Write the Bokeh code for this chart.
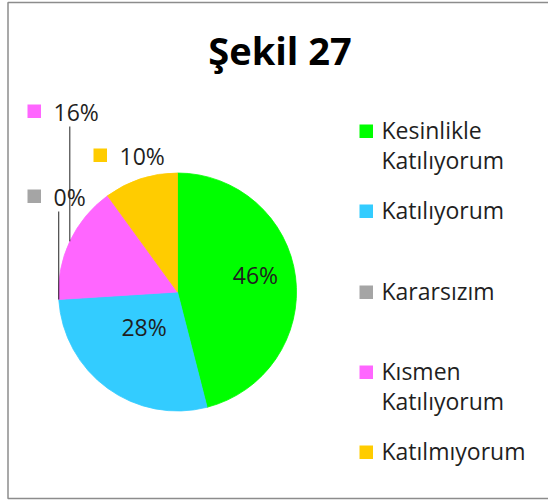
import math
from bokeh.plotting import figure
from bokeh.models import Range1d, ColumnDataSource
from bokeh.core.properties import value
from bokeh.embed import file_html
from bokeh.resources import INLINE

# ---------------- data ----------------
title_text = "Şekil 27"
categories = ["Kesinlikle Katılıyorum", "Katılıyorum", "Kararsızım",
              "Kısmen Katılıyorum", "Katılmıyorum"]
legend_lines = [["Kesinlikle", "Katılıyorum"], ["Katılıyorum"], ["Kararsızım"],
                ["Kısmen", "Katılıyorum"], ["Katılmıyorum"]]
percentages = [46, 28, 0, 16, 10]
colors = ["#00FF00", "#33CCFF", "#A5A5A5", "#FF66FF", "#FFCC00"]

# ---------------- layout (pixels from top-left) ----------------
W, H = 548, 502
CX, CY, R = 177, 291.5, 119
FONT = "Open Sans"
TXT = "#1f1f1f"
FS = 23
TFS = 38
BASE_SHIFT = 0.39  # compensation for baseline placement, in em
# inside labels: radius fraction and pixel nudge per slice
INSIDE_R = {0: (0.66, 0, -6), 1: (0.42, -4, -4)}
OUTSIDE = {3: (27, 104, True), 4: (93, 148, False), 2: (27, 189, True)}
LEG_X = 359
LEG_SQ_TOP = [124, 204, 285, 365, 445]
LEG_LINE_GAP = 30.5
SQ = 13.5


def Y(py):
    return H - py


def YB(baseline_px, fs):
    return Y(baseline_px - BASE_SHIFT * fs)


p = figure(width=W, height=H, x_range=Range1d(0, W), y_range=Range1d(0, H),
           output_backend="svg", toolbar_location=None,
           x_axis_type=None, y_axis_type=None, min_border=0)
p.grid.visible = False
p.outline_line_color = None
p.background_fill_color = "white"
p.border_fill_color = "white"

# chart frame
p.line(x=[W + 10, 7.5, 7.5, W + 10], y=[Y(2), Y(2), Y(498), Y(498)],
       line_color="#8c8c8c", line_width=1.5)

# title
p.text(x=[279.5], y=[YB(64.5, TFS)], text=[title_text], text_font=value(FONT),
       text_font_size=value(f"{TFS}px"), text_font_style="bold",
       text_align="center", text_baseline="alphabetic", text_color="black")

# pie wedges
total = float(sum(percentages))
cum = 0.0
starts, ends, mids = [], [], []
for v in percentages:
    f0 = cum / total
    cum += v
    f1 = cum / total
    starts.append(math.pi / 2 - 2 * math.pi * f0)
    ends.append(math.pi / 2 - 2 * math.pi * f1)
    mids.append((f0 + f1) / 2)

idx = [i for i, v in enumerate(percentages) if v > 0]
src = ColumnDataSource(dict(
    start=[starts[i] for i in idx], end=[ends[i] for i in idx],
    color=[colors[i] for i in idx]))
p.wedge(x=CX, y=Y(CY), radius=R, start_angle="start", end_angle="end",
        direction="clock", fill_color="color", line_color="color",
        line_width=0.8, source=src)


def edge_point(frac, rr):
    th = 2 * math.pi * frac
    return CX + rr * math.sin(th), CY - rr * math.cos(th)


# inside labels
for i, (rf, nx, ny) in INSIDE_R.items():
    lx, ly = edge_point(mids[i], rf * R)
    p.text(x=[lx + nx], y=[YB(ly + ny + 8, FS)], text=[f"{percentages[i]}%"],
           text_font=value(FONT), text_font_size=value(f"{FS}px"),
           text_align="center", text_baseline="alphabetic", text_color=TXT)

# outside labels with key squares and leader lines
for i, (sx, sy, leader) in OUTSIDE.items():
    p.quad(left=[sx], right=[sx + SQ], top=[Y(sy)], bottom=[Y(sy + SQ)],
           fill_color=colors[i], line_color=None)
    p.text(x=[sx + 26], y=[YB(sy + 16, FS)], text=[f"{percentages[i]}%"],
           text_font=value(FONT), text_font_size=value(f"{FS}px"),
           text_align="left", text_baseline="alphabetic", text_color=TXT)
    if leader:
        ex, ey = edge_point(mids[i], R)
        p.line(x=[ex, ex], y=[Y(sy + 22), Y(ey)], line_color="#222222", line_width=1)

# legend
for i, lines in enumerate(legend_lines):
    top = LEG_SQ_TOP[i]
    p.quad(left=[LEG_X], right=[LEG_X + SQ], top=[Y(top)], bottom=[Y(top + SQ)],
           fill_color=colors[i], line_color=None)
    for k, ln in enumerate(lines):
        p.text(x=[LEG_X + 22], y=[YB(top + 14 + k * LEG_LINE_GAP, FS)], text=[ln],
               text_font=value(FONT), text_font_size=value(f"{FS}px"),
               text_align="left", text_baseline="alphabetic", text_color=TXT)

open("out.html", "w").write(file_html(p, INLINE))
